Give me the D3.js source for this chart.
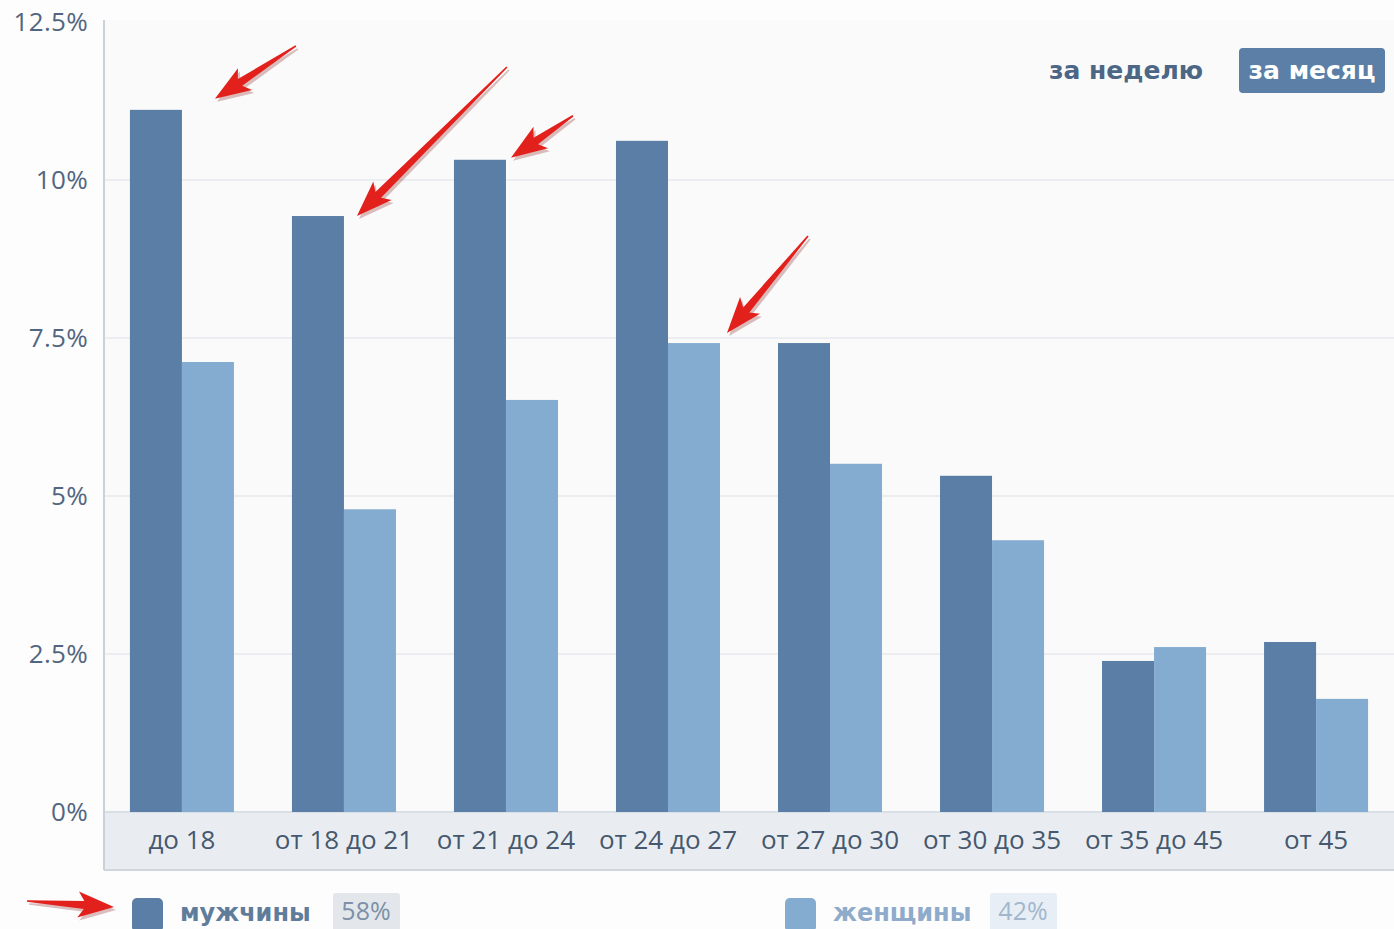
<!DOCTYPE html>
<html>
<head>
<meta charset="utf-8">
<script src="https://cdn.jsdelivr.net/npm/d3@7"></script>
<style>
  html, body { margin: 0; padding: 0; background: #fdfdfd; }
  svg { display: block; }
</style>
</head>
<body>
<div id="chart"></div>
<script>
// age groups and shares, %
const categories = ['до 18', 'от 18 до 21', 'от 21 до 24', 'от 24 до 27', 'от 27 до 30', 'от 30 до 35', 'от 35 до 45', 'от 45'];
const men = [11.11, 9.43, 10.32, 10.62, 7.42, 5.32, 2.39, 2.69];
const women = [7.12, 4.79, 6.52, 7.42, 5.51, 4.30, 2.61, 1.79];
const yTicks = [0, 2.5, 5, 7.5, 10, 12.5];
const seriesNames = ['мужчины', 'женщины'];
const seriesTotals = ['58%', '42%'];
const periods = ['за неделю', 'за месяц'];

// red arrows drawn on top (offsets from bar top-right corner)
const annotations = [
    { cat: 0, series: 0, tip: [33, -11], tail: [114, -64] },
    { cat: 1, series: 0, tip: [13, 0], tail: [163, -149] },
    { cat: 2, series: 0, tip: [5, -2], tail: [67, -44] },
    { cat: 3, series: 1, tip: [7, -10], tail: [88, -107] }
];

const W = 1394, H = 929;
const plotL = 104, plotR = 1394, plotT = 20, plotB = 812, bandB = 870;
const colors = ['#5a7ea5', '#84acd1'];

const svg = d3.select('#chart').append('svg')
    .attr('width', W)
    .attr('height', H);

const x = d3.scaleBand()
    .domain(categories)
    .range([plotL, plotR])
    .paddingInner(0.358)
    .paddingOuter(0.16);

const xs = d3.scaleBand()
    .domain([0, 1])
    .range([0, x.bandwidth()]);

const y = d3.scaleLinear()
    .domain([0, 12.5])
    .range([plotB, 22]);

// plot background
svg.append('rect')
    .attr('x', plotL).attr('y', plotT)
    .attr('width', plotR - plotL).attr('height', plotB - plotT)
    .attr('fill', '#fafafa');

// gridlines
svg.append('g')
    .selectAll('line')
    .data(yTicks.filter(d => d > 0 && d < 12.5))
    .enter().append('line')
    .attr('x1', plotL).attr('x2', plotR)
    .attr('y1', d => y(d)).attr('y2', d => y(d))
    .attr('stroke', '#e7e9ec')
    .attr('stroke-width', 1.5);

// label band
svg.append('rect')
    .attr('x', plotL).attr('y', plotB)
    .attr('width', plotR - plotL).attr('height', bandB - plotB)
    .attr('fill', '#e9edf2');
svg.append('line')
    .attr('x1', plotL).attr('x2', plotR)
    .attr('y1', plotB).attr('y2', plotB)
    .attr('stroke', '#d9dfe6').attr('stroke-width', 2);
svg.append('line')
    .attr('x1', plotL).attr('x2', plotR)
    .attr('y1', bandB).attr('y2', bandB)
    .attr('stroke', '#cfd6de').attr('stroke-width', 2);
svg.append('line')
    .attr('x1', plotL).attr('x2', plotL)
    .attr('y1', plotT).attr('y2', bandB)
    .attr('stroke', '#c9d1da').attr('stroke-width', 2);

// bars
const groups = svg.append('g')
    .selectAll('g')
    .data(categories)
    .enter().append('g')
    .attr('transform', d => `translate(${x(d)},0)`);

groups.selectAll('rect')
    .data((d, i) => [men[i], women[i]])
    .enter().append('rect')
    .attr('x', (d, j) => xs(j))
    .attr('y', d => y(d))
    .attr('width', xs.bandwidth())
    .attr('height', d => y(0) - y(d))
    .attr('fill', (d, j) => colors[j]);

// y tick labels
svg.append('g')
    .selectAll('text')
    .data(yTicks)
    .enter().append('text')
    .attr('x', 88)
    .attr('y', d => y(d))
    .attr('dy', '0.36em')
    .attr('text-anchor', 'end')
    .style('font-family', '"Open Sans", sans-serif')
    .style('font-size', '26px')
    .style('letter-spacing', '0.3px')
    .style('fill', '#526680')
    .text(d => d + '%');

// x labels
svg.append('g')
    .selectAll('text')
    .data(categories)
    .enter().append('text')
    .attr('x', d => x(d) + x.bandwidth() / 2)
    .attr('y', 840)
    .attr('dy', '0.36em')
    .attr('text-anchor', 'middle')
    .style('font-family', '"Open Sans", sans-serif')
    .style('font-size', '26px')
    .style('fill', '#46586d')
    .text(d => d);

// period switch
svg.append('text')
    .attr('x', 1126).attr('y', 70)
    .attr('dy', '0.36em')
    .attr('text-anchor', 'middle')
    .style('font-family', '"DejaVu Sans", sans-serif')
    .style('font-weight', 'bold')
    .style('font-size', '25px')
    .style('fill', '#4c6686')
    .text(periods[0]);
svg.append('rect')
    .attr('x', 1239).attr('y', 48)
    .attr('width', 146).attr('height', 45)
    .attr('rx', 4)
    .attr('fill', '#5b7fa6');
svg.append('text')
    .attr('x', 1312).attr('y', 70)
    .attr('dy', '0.36em')
    .attr('text-anchor', 'middle')
    .style('font-family', '"DejaVu Sans", sans-serif')
    .style('font-weight', 'bold')
    .style('font-size', '25px')
    .style('fill', '#ffffff')
    .text(periods[1]);

// legend
const legendX = [132, 785];
const legendText = ['#5f7c9b', '#8eabcb'];
const legendBox = ['#e3e7ec', '#e7eef6'];
const legendPct = ['#7c90a6', '#a3b7cc'];
const legend = svg.append('g')
    .selectAll('g')
    .data(seriesNames)
    .enter().append('g')
    .attr('transform', (d, i) => `translate(${legendX[i]},0)`);
legend.append('rect')
    .attr('x', 0).attr('y', 898)
    .attr('width', 31).attr('height', 34)
    .attr('rx', 5)
    .attr('fill', (d, i) => colors[i]);
legend.append('text')
    .attr('x', 48).attr('y', 912)
    .attr('dy', '0.36em')
    .style('font-family', '"DejaVu Sans", sans-serif')
    .style('font-weight', 'bold')
    .style('font-size', '24px')
    .style('fill', (d, i) => legendText[i])
    .text(d => d);
legend.append('rect')
    .attr('x', (d, i) => i === 0 ? 201 : 205).attr('y', 893)
    .attr('width', 67).attr('height', 40)
    .attr('rx', 3)
    .attr('fill', (d, i) => legendBox[i]);
legend.append('text')
    .attr('x', (d, i) => i === 0 ? 234 : 238).attr('y', 911)
    .attr('dy', '0.36em')
    .attr('text-anchor', 'middle')
    .style('font-family', '"Open Sans", sans-serif')
    .style('font-size', '25px')
    .style('fill', (d, i) => legendPct[i])
    .text((d, i) => seriesTotals[i]);

// arrows
function arrowPath(sx, sy, tx, ty) {
    const len = Math.hypot(tx - sx, ty - sy);
    const dx = (tx - sx) / len, dy = (ty - sy) / len;
    const nx = -dy, ny = dx;
    const L = 30, barb = 36, hw = 13, neck = 4, tailW = 0.8;
    const bx = tx - dx * L, by = ty - dy * L;
    const wx = tx - dx * barb, wy = ty - dy * barb;
    const pts = [
        [sx + nx * tailW, sy + ny * tailW],
        [bx + nx * neck, by + ny * neck],
        [wx + nx * hw, wy + ny * hw],
        [tx, ty],
        [wx - nx * hw, wy - ny * hw],
        [bx - nx * neck, by - ny * neck],
        [sx - nx * tailW, sy - ny * tailW]
    ];
    return 'M' + pts.map(p => p.join(',')).join('L') + 'Z';
}

const arrows = annotations.map(a => {
    const bx = x(categories[a.cat]) + xs(a.series) + xs.bandwidth();
    const by = y(a.series === 0 ? men[a.cat] : women[a.cat]);
    return [bx + a.tail[0], by + a.tail[1], bx + a.tip[0], by + a.tip[1]];
});
// legend arrow points at the first legend square
arrows.push([legendX[0] - 105, 901, legendX[0] - 18, 907]);

const arrowG = svg.append('g');
arrowG.selectAll('path.shadow')
    .data(arrows)
    .enter().append('path')
    .attr('class', 'shadow')
    .attr('d', d => arrowPath(d[0] + 2, d[1] + 3, d[2] + 2, d[3] + 3))
    .attr('fill', 'rgba(120,0,0,0.25)');
arrowG.selectAll('path.arrow')
    .data(arrows)
    .enter().append('path')
    .attr('class', 'arrow')
    .attr('d', d => arrowPath(d[0], d[1], d[2], d[3]))
    .attr('fill', '#e3211c');
</script>
</body>
</html>
